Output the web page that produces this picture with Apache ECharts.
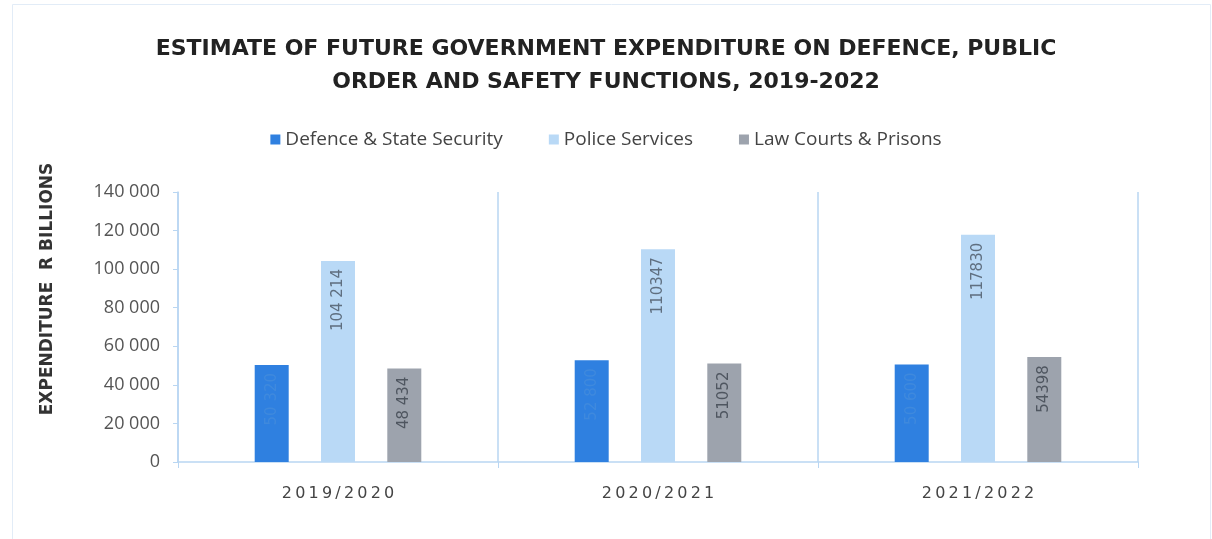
<!DOCTYPE html>
<html>
<head>
<meta charset="utf-8">
<script src="https://cdn.jsdelivr.net/npm/echarts@6/dist/echarts.min.js"></script>
<style>
  html, body { margin: 0; padding: 0; background: #fff; }
  #chart { width: 1212px; height: 539px; }
</style>
</head>
<body>
<div id="chart"></div>
<script>
// data
const years = ['2019/2020', '2020/2021', '2021/2022'];
const defence = [50320, 52800, 50600];
const police = [104214, 110347, 117830];
const courts = [48434, 51052, 54398];
const defenceLabels = ['50 320', '52 800', '50 600'];
const policeLabels = ['104 214', '110347', '117830'];
const courtsLabels = ['48 434', '51052', '54398'];
const yTicks = [0, 20000, 40000, 60000, 80000, 100000, 120000, 140000];

const blueLine = '#b9d6f2';

function spaced(v) {
    return String(v).replace(/\B(?=(\d{3})+(?!\d))/g, ' ');
}

function barLabel(texts, color) {
    return {
        show: true,
        position: 'insideTop',
        rotate: 90,
        align: 'right',
        verticalAlign: 'middle',
        distance: 8,
        color: color,
        fontFamily: 'DejaVu Sans',
        fontSize: 15,
        formatter: (p) => texts[p.dataIndex]
    };
}

let chart = echarts.init(document.getElementById('chart'));
let option = {
    backgroundColor: '#fff',
    animation: false,
    graphic: [{
        type: 'rect',
        left: 10,
        top: 2,
        shape: { width: 1198, height: 540 },
        style: { fill: 'none', stroke: '#e2ecf7', lineWidth: 1 },
        silent: true
    }],
    title: {
        text: 'ESTIMATE OF FUTURE GOVERNMENT EXPENDITURE ON DEFENCE, PUBLIC\nORDER AND SAFETY FUNCTIONS, 2019-2022',
        left: 'center',
        top: 28,
        textStyle: {
            fontFamily: 'DejaVu Sans',
            fontWeight: 'bold',
            fontSize: 22,
            lineHeight: 33,
            color: '#222'
        }
    },
    legend: {
        top: 125,
        left: 'center',
        itemWidth: 10,
        itemHeight: 10,
        itemGap: 46,
        icon: 'rect',
        textStyle: {
            fontFamily: 'Open Sans',
            fontSize: 19,
            color: '#444'
        },
        data: ['Defence & State Security', 'Police Services', 'Law Courts & Prisons']
    },
    grid: {
        left: 178,
        right: 74,
        top: 192,
        bottom: 77
    },
    xAxis: {
        type: 'category',
        data: years,
        axisLine: { lineStyle: { color: blueLine, width: 1.5 } },
        axisTick: { show: true, length: 6, lineStyle: { color: blueLine } },
        splitLine: { show: true, lineStyle: { color: blueLine, width: 1.5 } },
        axisLabel: {
            margin: 24,
            fontFamily: 'DejaVu Sans',
            fontSize: 16,
            color: '#444',
            formatter: (v) => v.split('').join('\u2009')
        }
    },
    yAxis: {
        type: 'value',
        min: 0,
        max: 140000,
        interval: 20000,
        name: 'EXPENDITURE  R BILLIONS',
        nameLocation: 'middle',
        nameGap: 122,
        nameRotate: 90,
        nameTextStyle: {
            fontFamily: 'DejaVu Sans',
            fontWeight: 'bold',
            fontSize: 17,
            color: '#333',
            padding: [0, 0, 0, 76]
        },
        axisLine: { show: true, lineStyle: { color: blueLine, width: 1.5 } },
        axisTick: { show: true, length: 5, lineStyle: { color: blueLine } },
        splitLine: { show: false },
        axisLabel: {
            margin: 18,
            fontFamily: 'Open Sans',
            fontSize: 18,
            color: '#555',
            customValues: yTicks,
            formatter: (v) => spaced(v)
        }
    },
    series: [
        {
            name: 'Defence & State Security',
            type: 'bar',
            data: defence,
            barWidth: 34,
            barGap: '95%',
            itemStyle: { color: '#2f80e0' },
            label: barLabel(defenceLabels, '#3f89dd')
        },
        {
            name: 'Police Services',
            type: 'bar',
            data: police,
            barWidth: 34,
            barGap: '95%',
            itemStyle: { color: '#b9d9f6' },
            label: barLabel(policeLabels, '#5f6f80')
        },
        {
            name: 'Law Courts & Prisons',
            type: 'bar',
            data: courts,
            barWidth: 34,
            barGap: '95%',
            itemStyle: { color: '#9da3ad' },
            label: barLabel(courtsLabels, '#4f5660')
        }
    ]
};
chart.setOption(option);
</script>
</body>
</html>
